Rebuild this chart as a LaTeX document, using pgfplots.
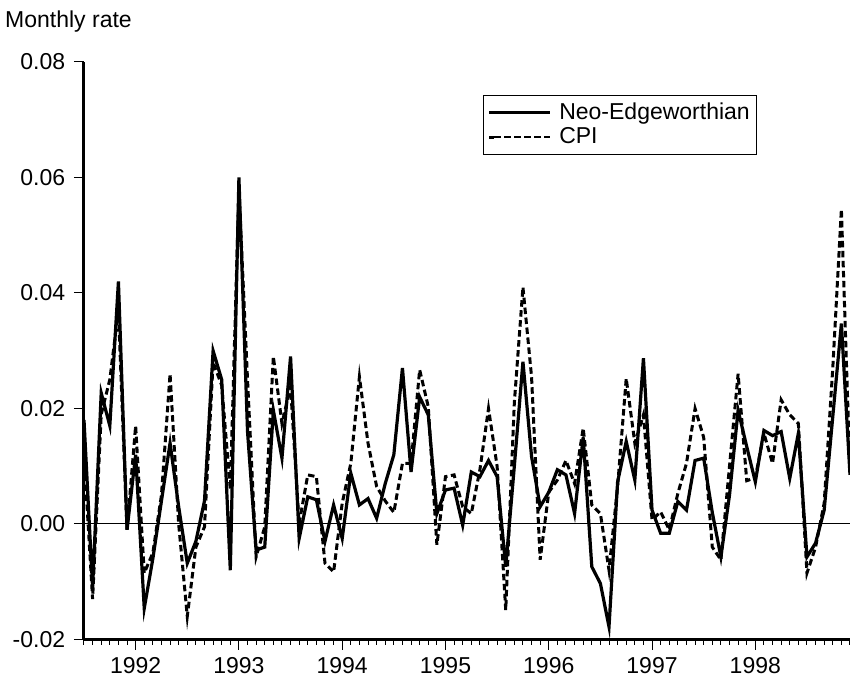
\documentclass[border=0pt]{standalone}
\usepackage{pgfplots}
\usepackage{pgfplotstable}
\pgfplotsset{compat=1.18}
\usepackage{fontspec}
\setmainfont{Liberation Sans}

\pgfplotstableread{
m N C
0 0.018 0.012
1 -0.011 -0.013
2 0.0227 0.019
3 0.017 0.025
4 0.042 0.037
5 -0.001 -0.001
6 0.012 0.017
7 -0.0146 -0.0085
8 -0.006 -0.005
9 0.004 0.005
10 0.014 0.026
11 0.003 0.0
12 -0.0068 -0.016
13 -0.003 -0.004
14 0.004 -0.0005
15 0.030 0.028
16 0.025 0.024
17 -0.008 0.006
18 0.060 0.058
19 0.016 0.025
20 -0.0045 -0.0057
21 -0.004 -0.0005
22 0.0197 0.029
23 0.0114 0.0174
24 0.029 0.0238
25 -0.0025 0.0001
26 0.0047 0.0085
27 0.0042 0.0082
28 -0.003 -0.0068
29 0.0033 -0.0083
30 -0.0025 0.0036
31 0.0088 0.0105
32 0.0033 0.0255
33 0.0044 0.014
34 0.001 0.0065
35 0.007 0.004
36 0.012 0.002
37 0.027 0.0105
38 0.009 0.0105
39 0.022 0.0267
40 0.0189 0.0203
41 0.0018 -0.0036
42 0.0059 0.0082
43 0.0062 0.0085
44 -0.0002 0.003
45 0.009 0.0018
46 0.0082 0.0094
47 0.011 0.020
48 0.0082 0.010
49 -0.0074 -0.0149
50 0.010 0.021
51 0.0281 0.041
52 0.0117 0.0255
53 0.003 -0.0062
54 0.0055 0.0055
55 0.0094 0.0076
56 0.0085 0.011
57 0.0018 0.007
58 0.015 0.0166
59 -0.0074 0.0033
60 -0.0103 0.0018
61 -0.0178 -0.008
62 0.0073 0.0065
63 0.0143 0.0252
64 0.0076 0.014
65 0.0287 0.0189
66 0.0024 0.0007
67 -0.0016 0.0021
68 -0.0016 -0.001
69 0.0039 0.0053
70 0.0024 0.0105
71 0.011 0.020
72 0.0114 0.015
73 0.002 -0.004
74 -0.0057 -0.0062
75 0.005 0.010
76 0.0197 0.026
77 0.0134 0.0075
78 0.0073 0.008
79 0.0162 0.0157
80 0.0153 0.0105
81 0.016 0.0215
82 0.0079 0.0189
83 0.0157 0.0174
84 -0.0057 -0.0085
85 -0.0033 -0.004
86 0.0024 0.0036
87 0.0186 0.027
88 0.0347 0.0545
89 0.0085 0.009
}\datatable

\begin{document}
\fontsize{23bp}{27bp}\selectfont
\begin{tikzpicture}
\path[use as bounding box] (-84bp,-45.5bp) rectangle (766bp,639.5bp);
\begin{axis}[
  scale only axis, width=766bp, height=577.5bp,
  at={(0,0)}, anchor=south west,
  xmin=0, xmax=89, ymin=-0.02, ymax=0.08,
  scaled y ticks=false,
  axis x line=bottom, axis y line=left,
  axis line style={-, line width=3bp},
  tick align=outside,
  xtick={6,18,30,42,54,66,78},
  xticklabels={1992,1993,1994,1995,1996,1997,1998},
  minor xtick={0,1,...,89},
  ytick={-0.02,0,0.02,0.04,0.06,0.08},
  yticklabels={-0.02,0.00,0.02,0.04,0.06,0.08},
  major tick length=10bp, minor tick length=5bp,
  every tick/.style={black, line width=1bp},
  tick label style={font=\fontsize{23bp}{27bp}\selectfont},
  xticklabel style={yshift=0bp},
  yticklabel style={xshift=-1bp},
  clip=false,
  reverse legend,
  legend cell align=left,
  legend style={at={(0.521,0.943)}, anchor=north west, draw=black, line width=1bp,
    font=\fontsize{23bp}{27bp}\selectfont, inner xsep=4bp, inner ysep=6bp,
    row sep=3bp, column sep=5bp,
    nodes={inner xsep=3bp, inner ysep=1bp}},
  legend image code/.code={\path (0bp,0bp) -- (5bp,0bp);\draw[#1, line width=2.2bp] (5bp,0bp) -- (61bp,0bp);},
]
\addplot[black, line width=1bp, forget plot] coordinates {(0,0) (89,0)};
\addplot[black, line width=3bp, dash pattern=on 6.5bp off 3.5bp] table[x=m, y=C] {\datatable};
\addlegendentry{CPI}
\addplot[black, line width=3.2bp] table[x=m, y=N] {\datatable};
\addlegendentry{Neo-Edgeworthian}
\end{axis}
\node[anchor=base west, inner sep=0pt, font=\fontsize{23bp}{27bp}\selectfont] at (-79bp,612bp) {Monthly rate};
\end{tikzpicture}
\end{document}
